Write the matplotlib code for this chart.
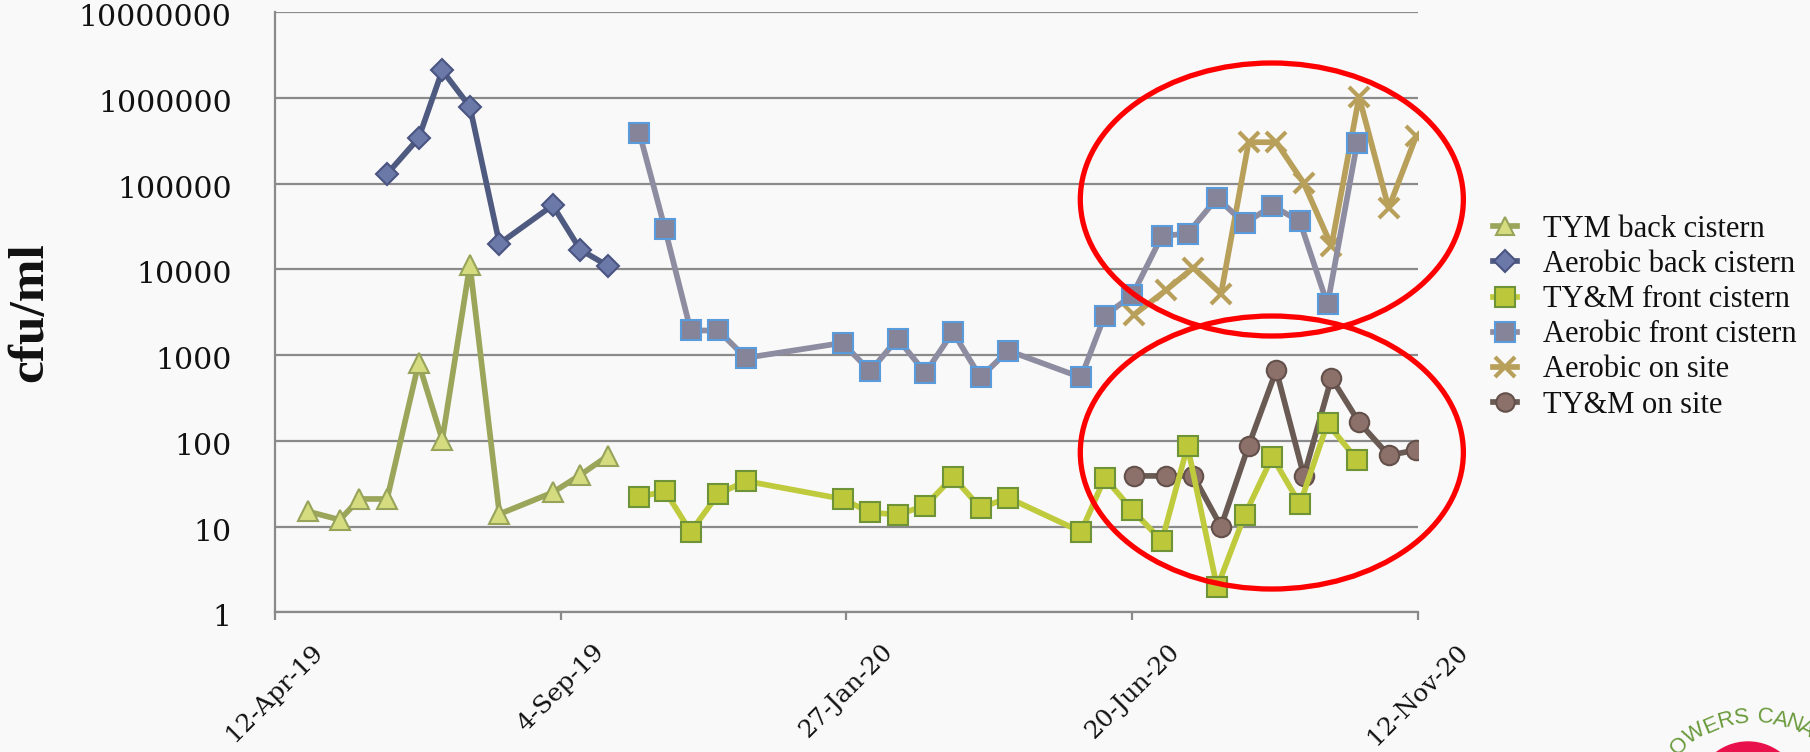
import matplotlib
matplotlib.use('Agg')
import matplotlib.pyplot as plt
from matplotlib.patches import Ellipse
from matplotlib.ticker import NullLocator, FixedLocator, FixedFormatter
from matplotlib.transforms import ScaledTranslation
import pandas as pd
import numpy as np

# ---------------- data ----------------
back_dates = ['2019-04-29', '2019-05-15', '2019-05-25', '2019-06-08', '2019-06-24',
              '2019-07-06', '2019-07-20', '2019-08-04', '2019-08-31', '2019-09-14',
              '2019-09-28']
tym_back = [15, 12, 21, 21, 810, 103, 11300, 14, 25, 40, 67]

aer_back_dates = ['2019-06-08', '2019-06-24', '2019-07-06', '2019-07-20', '2019-08-04',
                  '2019-08-31', '2019-09-14', '2019-09-28']
aer_back = [130000, 340000, 2100000, 790000, 20000, 56000, 17000, 11000]

front_dates = ['2019-10-14', '2019-10-27', '2019-11-09', '2019-11-23', '2019-12-07',
               '2020-01-25', '2020-02-08', '2020-02-22', '2020-03-07', '2020-03-21',
               '2020-04-04', '2020-04-18', '2020-05-25', '2020-06-06', '2020-06-20',
               '2020-07-05', '2020-07-18', '2020-08-02', '2020-08-16', '2020-08-30',
               '2020-09-13', '2020-09-27', '2020-10-12']
tym_front = [22, 26, 8.7, 24, 34, 21, 14.6, 13.8, 17.5, 38, 16.5, 21.7, 8.7, 37,
             15.6, 6.8, 87, 1.95, 13.6, 65, 18.3, 160, 60]
aer_front = [390000, 29500, 1940, 1940, 930, 1390, 650, 1560, 620, 1870, 550, 1130,
             550, 2900, 5000, 24600, 26200, 68000, 34400, 55300, 36300, 3900, 295000]

site_dates = ['2020-06-21', '2020-07-07', '2020-07-21', '2020-08-04', '2020-08-18',
              '2020-09-01', '2020-09-15', '2020-09-29', '2020-10-13', '2020-10-28',
              '2020-11-11']
aer_site = [2980, 5700, 10500, 5200, 305000, 305000, 101000, 18800, 1030000, 52000, 360000]
tym_site = [39, 39, 39, 10, 88, 665, 39, 542, 165, 68, 78]

series_labels = ['TYM back cistern', 'Aerobic back cistern', 'TY&M front cistern',
                 'Aerobic front cistern', 'Aerobic on site', 'TY&M on site']

x_tick_labels = ['12-Apr-19', '4-Sep-19', '27-Jan-20', '20-Jun-20', '12-Nov-20']
y_tick_values = [1, 10, 100, 1000, 10000, 100000, 1000000, 10000000]

# ---------------- figure ----------------
W, H = 1810, 752
fig = plt.figure(figsize=(W / 100, H / 100), dpi=100)
fig.patch.set_facecolor('#f9f9f9')

ax = fig.add_axes([274.7 / W, 1 - 612.3 / H, (1418.2 - 274.7) / W, 600 / H])
ax.set_facecolor('none')

d = lambda lst: pd.to_datetime(lst)
lw = 4.1

h1, = ax.plot(d(back_dates), tym_back, color='#9ba65a', lw=lw, marker='^', ms=14,
              mfc='#d5dc80', mec='#98a35a', mew=1.5, zorder=3, label=series_labels[0])
h2, = ax.plot(d(aer_back_dates), aer_back, color='#4f5a80', lw=lw, marker='D', ms=11.5,
              mfc='#6b79a8', mec='#4a5480', mew=1.5, zorder=3, label=series_labels[1])
h5, = ax.plot(d(site_dates), aer_site, color='#b8a05a', lw=lw, marker='x', ms=15,
              mew=3.0, zorder=2, label=series_labels[4])
h6, = ax.plot(d(site_dates), tym_site, color='#6a5a54', lw=lw, marker='o', ms=14,
              mfc='#8c716a', mec='#64504a', mew=1.5, zorder=2, label=series_labels[5])
h3, = ax.plot(d(front_dates), tym_front, color='#bfcb3c', lw=lw, marker='s', ms=14.5,
              mfc='#bcc73a', mec='#6f9438', mew=1.5, zorder=3, label=series_labels[2])
h4, = ax.plot(d(front_dates), aer_front, color='#8d8ca0', lw=lw, marker='s', ms=14.5,
              mfc='#858499', mec='#5a9bdb', mew=1.5, zorder=3, label=series_labels[3])

# axes
ax.set_yscale('log')
ax.set_ylim(1, 1e7)
ax.yaxis.set_major_locator(FixedLocator(y_tick_values))
ax.yaxis.set_major_formatter(FixedFormatter([str(v) for v in y_tick_values]))
ax.yaxis.set_minor_locator(NullLocator())

xt = pd.to_datetime(x_tick_labels, format='%d-%b-%y')
ax.set_xlim(xt[0], xt[-1])
ax.set_xticks(xt)
ax.set_xticklabels(x_tick_labels)
ax.xaxis.set_minor_locator(NullLocator())

grey = '#8a8a8a'
ax.yaxis.grid(True, color=grey, lw=1.6, zorder=0)
ax.set_axisbelow(True)
for s in ['top', 'right']:
    ax.spines[s].set_visible(False)
for s in ['left', 'bottom']:
    ax.spines[s].set_color(grey)
    ax.spines[s].set_linewidth(1.6)

ax.tick_params(axis='y', length=0, pad=31, labelsize=21.5, labelcolor='#111111')
ax.tick_params(axis='x', length=6, width=1.6, color=grey, pad=14, labelsize=18,
               labelcolor='#111111')
for t in ax.get_yticklabels() + ax.get_xticklabels():
    t.set_family('DejaVu Serif')
shift = ScaledTranslation(0, -3 / 100, fig.dpi_scale_trans)
for t in ax.get_yticklabels():
    t.set_transform(t.get_transform() + shift)
plt.setp(ax.get_xticklabels(), rotation=45, ha='center')

fig.text(30 / W, 1 - 312.5 / H, 'cfu/ml', rotation=90, ha='center', va='center',
         fontsize=37, fontweight='bold', family='Liberation Serif', color='#111111')

# legend
leg = fig.legend(handles=[h1, h2, h3, h4, h5, h6], loc='upper left',
                 bbox_to_anchor=(1493 / W, 1 - 215 / H), bbox_transform=fig.transFigure,
                 frameon=False, prop={'family': 'Liberation Serif', 'size': 22},
                 handlelength=0.8, handletextpad=0.85, labelspacing=0.2,
                 borderpad=0, borderaxespad=0, numpoints=1, markerscale=0.95)
for t in leg.get_texts():
    t.set_color('#111111')

# red highlight ellipses (annotation)
for cy, hh in [(0.688, 0.455), (0.2663, 0.455)]:
    ax.add_patch(Ellipse((0.872, cy), 0.335, hh, transform=ax.transAxes, fill=False,
                         ec='#ff0000', lw=3.8, clip_on=False, zorder=6))

# partial logo in bottom-right corner (cut by the slide edge, as in the source)
fig.patches.append(Ellipse((1748 / W, 1 - 795 / H), 106 / W, 106 / H,
                           transform=fig.transFigure, color='#e8114b', zorder=1))
logo_cx, logo_cy, logo_r = 1755, 830, 113
letters = 'OWERS CANA'
angles = [-42, -32, -23, -15, -7, 0, 5, 13, 20, 27]
for ch, a in zip(letters, angles):
    if ch == ' ':
        continue
    r = np.deg2rad(a)
    px = logo_cx + logo_r * np.sin(r)
    py = logo_cy - logo_r * np.cos(r)
    fig.text(px / W, 1 - py / H, ch, rotation=-a, ha='center', va='center',
             fontsize=16, color='#6a9a3c', family='Liberation Sans')

fig.savefig('out.png', dpi=100, facecolor=fig.get_facecolor())
